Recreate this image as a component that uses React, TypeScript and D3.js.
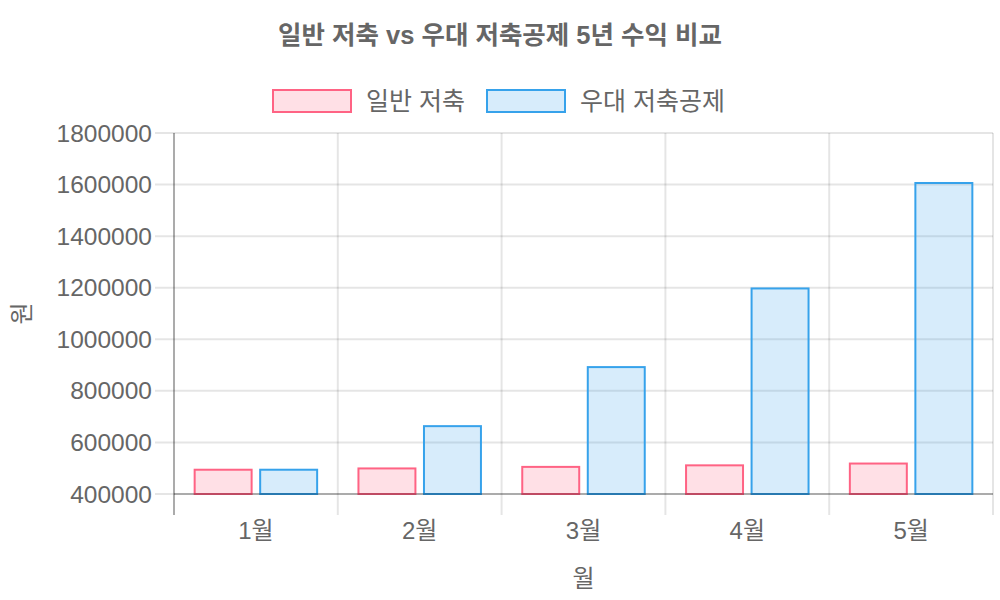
import React from "react";
import * as d3 from "d3";

const months = ["1월", "2월", "3월", "4월", "5월"];
const regularSavings = [498000, 503000, 509000, 515000, 522000];
const preferredSavings = [498000, 667000, 896000, 1201000, 1610000];
const yTicks = [400000, 600000, 800000, 1000000, 1200000, 1400000, 1600000, 1800000];
const seriesNames = ["일반 저축", "우대 저축공제"];
const seriesStroke = ["rgb(255,99,132)", "rgb(54,162,235)"];
const seriesFill = ["rgba(255,99,132,0.2)", "rgba(54,162,235,0.2)"];

const W = 1000, H = 600;
const left = 174, right = 993, top = 133, bottom = 494;
const FONT = "'Liberation Sans', Arial, 'Noto Sans CJK KR', sans-serif";

export default function App() {
  const x = d3.scaleBand<string>().domain(months).range([left, right]).paddingInner(0).paddingOuter(0);
  const y = d3.scaleLinear().domain([400000, 1800000]).range([bottom, top]);
  const series = [regularSavings, preferredSavings];
  const bw = x.bandwidth();
  const groupW = bw * 0.8;
  const barW = (groupW / 2) * 0.9;
  const grid = "rgba(0,0,0,0.1)";
  const axis = "rgba(0,0,0,0.25)";
  const textColor = "#666";
  const boundaries = [...months.map((m) => x(m) as number), right];

  return (
    <svg width={W} height={H} style={{ position: "absolute", left: 0, top: 0, background: "#fff" }} fontFamily={FONT}>
      <text x={500} y={44} textAnchor="middle" fontSize={25.5} fontWeight="bold" fill={textColor}>
        일반 저축 vs 우대 저축공제 5년 수익 비교
      </text>
      {/* legend */}
      {(() => {
        const items = [
          { bx: 272, tx: 366 },
          { bx: 486, tx: 580 },
        ];
        return items.map((it, i) => (
          <g key={i}>
            <rect x={it.bx + 1} y={90} width={78} height={22} fill={seriesFill[i]} stroke={seriesStroke[i]} strokeWidth={2} />
            <text x={it.tx} y={110} fontSize={25} fill={textColor}>{seriesNames[i]}</text>
          </g>
        ));
      })()}
      {/* horizontal grid */}
      {yTicks.map((t) => (
        <line key={t} x1={155} x2={right} y1={y(t)} y2={y(t)} stroke={grid} strokeWidth={2} />
      ))}
      {/* vertical grid */}
      {boundaries.map((bx, i) => (
        <line key={i} x1={bx} x2={bx} y1={top} y2={515} stroke={grid} strokeWidth={2} />
      ))}
      {/* bars */}
      {months.map((m, mi) =>
        series.map((s, si) => {
          const gx = (x(m) as number) + (bw - groupW) / 2 + si * (groupW / 2) + ((groupW / 2) - barW) / 2;
          const yv = y(s[mi]);
          return (
            <rect key={m + si} x={gx + 1} y={yv + 1} width={barW - 2} height={bottom - yv - 1}
              fill={seriesFill[si]} stroke={seriesStroke[si]} strokeWidth={2} />
          );
        })
      )}
      {/* axes */}
      <line x1={left} x2={left} y1={top} y2={515} stroke={axis} strokeWidth={2} />
      <line x1={left} x2={right} y1={bottom} y2={bottom} stroke={axis} strokeWidth={2} />
      {/* y tick labels */}
      {yTicks.map((t) => (
        <text key={t} x={152} y={y(t) + 8.5} textAnchor="end" fontSize={24.5} fill={textColor}>{t}</text>
      ))}
      {/* x tick labels */}
      {months.map((m) => (
        <text key={m} x={(x(m) as number) + bw / 2} y={539} textAnchor="middle" fontSize={24} fill={textColor}>{m}</text>
      ))}
      <text x={(left + right) / 2} y={587} textAnchor="middle" fontSize={24} fill={textColor}>월</text>
      <text transform={`translate(30,${(top + bottom) / 2}) rotate(-90)`} textAnchor="middle" fontSize={24} fill={textColor}>원</text>
    </svg>
  );
}
